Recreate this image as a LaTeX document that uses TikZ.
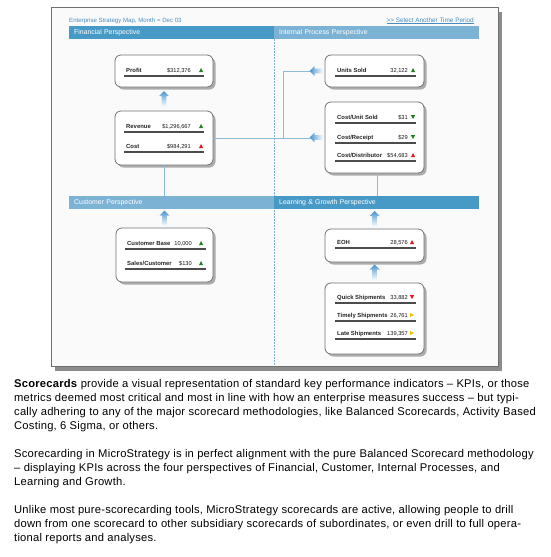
\documentclass[tikz,border=0pt]{standalone}
\usepackage{fontspec}
\setmainfont{Liberation Sans}
\newfontfamily\linkfont{Liberation Sans}
\usetikzlibrary{shadows,calc}
\definecolor{hdrdark}{RGB}{72,154,198}
\definecolor{hdrlight}{RGB}{124,178,212}
\definecolor{titleblue}{RGB}{70,140,195}
\definecolor{arrblue}{RGB}{70,145,205}
\definecolor{conblue}{RGB}{140,186,218}
\definecolor{framegray}{RGB}{112,112,112}
\definecolor{indgreen}{RGB}{30,130,30}
\definecolor{indred}{RGB}{235,20,20}
\definecolor{indyellow}{RGB}{245,195,0}
\tikzset{
  kpibox/.style={draw=black!55, line width=0.8pt, fill=white, rounded corners=6pt,
    drop shadow={shadow xshift=2.5pt, shadow yshift=-2.5pt, fill=black!40, opacity=0.8},
    inner sep=0pt},
  hdr/.style={anchor=north west, minimum height=13pt, text width=195pt, inner xsep=5pt,
    inner ysep=0pt, align=left, text=white, font=\fontsize{6.9}{7}\selectfont},
  uline/.style={draw=black!70, line width=1.1pt},
  lbl/.style={inner sep=0pt, font=\fontsize{5.9}{7}\selectfont\bfseries, text=black!85},
  val/.style={inner sep=0pt, font=\fontsize{5.7}{7}\selectfont, text=black!90},
  conn/.style={draw=conblue, line width=0.8pt},
  para/.style={anchor=base west, inner sep=0pt, font=\fontsize{11.2}{14}\selectfont\addfontfeatures{LetterSpace=2}},
  uparr/.pic={\shade[top color=arrblue, bottom color=white, middle color=arrblue!45]
     (0,-8) -- (5,-3) -- (2.3,-3) -- (2.3,8) -- (-2.3,8) -- (-2.3,-3) -- (-5,-3) -- cycle;},
  leftarr/.pic={\shade[left color=arrblue, right color=white, middle color=arrblue!45]
     (-7,0) -- (-2,-5) -- (-2,-2.3) -- (7,-2.3) -- (7,2.3) -- (-2,2.3) -- (-2,5) -- cycle;},
  gup/.pic={\fill[indgreen] (-2,2) -- (2,2) -- (0,-2) -- cycle;},
  rup/.pic={\fill[indred] (-2,2) -- (2,2) -- (0,-2) -- cycle;},
  gdown/.pic={\fill[indgreen] (-2.2,-2) -- (2.2,-2) -- (0,2) -- cycle;},
  rdown/.pic={\fill[indred] (-2.2,-2) -- (2.2,-2) -- (0,2) -- cycle;},
  yright/.pic={\fill[indyellow] (-2,-2.2) -- (-2,2.2) -- (2,0) -- cycle;},
}
% x1, x2, y, label, value, indicator, value-end offset, indicator offset
\newcommand{\kpirow}[8]{%
  \draw[uline] (#1,#3) -- (#2,#3);
  \node[lbl, anchor=base west] at (#1+2,#3-4) {#4};
  \node[val, anchor=base east] at (#2-#7,#3-4) {#5};
  \pic at (#2-#8,#3-6) {#6};
}
\begin{document}
\begin{tikzpicture}[x=1pt,y=-1pt]
\useasboundingbox (0,0) rectangle (550,557);
\fill[white] (0,0) rectangle (550,557);
% frame
\fill[black!45] (55,12) rectangle (502,371);
\draw[framegray, line width=1pt, fill=white!98!black] (51,7) rectangle (498,366);
% title line
\node[anchor=base west, inner sep=0pt, text=titleblue, font=\fontsize{6.1}{7}\selectfont] (title) at (69,22) {Enterprise Strategy Map, Month = Dec 03};
\node[anchor=base east, inner sep=0pt, text=titleblue, font=\linkfont\fontsize{6.4}{7}\selectfont] (link) at (474,22) {\underline{>> Select Another Time Period}};
% dotted divider
\draw[hdrlight, line width=0.6pt, dash pattern=on 2pt off 1pt] (274,39) -- (274,366);
% headers
\node[hdr, fill=hdrdark, minimum width=205pt] (fin) at (69,26) {Financial Perspective};
\node[hdr, fill=hdrlight, minimum width=203pt] (ipp) at (274,26) {Internal Process Perspective};
\node[hdr, fill=hdrlight, minimum width=205pt] (cust) at (69,196) {Customer Perspective};
\node[hdr, fill=hdrdark, minimum width=204pt] (lg) at (274,196) {Learning \& Growth Perspective};
% boxes
\node[kpibox, minimum width=98pt, minimum height=32pt] (profit) at (164,71) {};
\node[kpibox, minimum width=98pt, minimum height=54pt] (revenue) at (164,138) {};
\node[kpibox, minimum width=99pt, minimum height=32pt] (units) at (374.5,71) {};
\node[kpibox, minimum width=99pt, minimum height=71pt] (cost) at (374.5,137.5) {};
\node[kpibox, minimum width=97pt, minimum height=54pt] (customer) at (164.5,255) {};
\node[kpibox, minimum width=99pt, minimum height=33pt] (eoh) at (374.5,245.5) {};
\node[kpibox, minimum width=99pt, minimum height=71pt] (ship) at (374.5,318.5) {};
% rows
\kpirow{124}{204}{76}{Profit}{\$312,376}{gup}{13}{3}
\kpirow{124}{204}{132}{Revenue}{\$1,296,667}{gup}{13}{3}
\kpirow{124}{204}{152}{Cost}{\$984,291}{rup}{13}{3}
\kpirow{335}{416}{76}{Units Sold}{32,122}{gup}{8}{3}
\kpirow{335}{416}{123}{Cost/Unit Sold}{\$31}{gdown}{8}{3}
\kpirow{335}{416}{143}{Cost/Receipt}{\$29}{gdown}{8}{3}
\kpirow{335}{416}{161}{Cost/Distributor}{\$54,683}{rup}{8}{3}
\kpirow{125}{206}{249}{Customer Base}{10,000}{gup}{14}{5}
\kpirow{125}{206}{269}{Sales/Customer}{\$130}{gup}{14}{5}
\kpirow{335}{416}{248}{EOH}{28,576}{rup}{8}{4}
\kpirow{335}{416}{303}{Quick Shipments}{33,882}{rdown}{8}{4}
\kpirow{335}{416}{321}{Timely Shipments}{26,761}{yright}{8}{4}
\kpirow{335}{416}{339}{Late Shipments}{139,357}{yright}{8}{4}
% connectors
\coordinate (t1) at ($(units.west)+(-15,0)$);
\coordinate (t2) at ($(cost.west)+(-15,0)$);
\coordinate (bus) at (283,100);
\draw[conn] (revenue.east) -- (revenue.east -| t2);
\draw[conn] (t1) -| (bus |- revenue.east);
\draw[conn] (revenue.south) -- (revenue.south |- cust.north);
\draw[conn] (377,173) -- (377,196);
% fading arrows
\pic at ($(profit.south)!0.5!(revenue.north)$) {uparr};
\pic at ($(cust.south -| customer.north)!0.5!(customer.north)$) {uparr};
\pic at ($(lg.south -| eoh.north)!0.5!(eoh.north)$) {uparr};
\pic at ($(eoh.south)!0.5!(ship.north)$) {uparr};
\pic at ($(units.west)+(-8,0)$) {leftarr};
\pic at ($(cost.west)+(-8,0)$) {leftarr};
% text
\node[para] (p1a) at (14,387) {\textbf{Scorecards} provide a visual representation of standard key performance indicators -- KPIs, or those};
\node[para] (p1b) at (14,401) {metrics deemed most critical and most in line with how an enterprise measures success -- but typi-};
\node[para] (p1c) at (14,415) {cally adhering to any of the major scorecard methodologies, like Balanced Scorecards, Activity Based};
\node[para] (p1d) at (14,429) {Costing, 6 Sigma, or others.};
\node[para] (p2a) at (14,457) {Scorecarding in MicroStrategy is in perfect alignment with the pure Balanced Scorecard methodology};
\node[para] (p2b) at (14,471) {-- displaying KPIs across the four perspectives of Financial, Customer, Internal Processes, and};
\node[para] (p2c) at (14,485) {Learning and Growth.};
\node[para] (p3a) at (14,513) {Unlike most pure-scorecarding tools, MicroStrategy scorecards are active, allowing people to drill};
\node[para] (p3b) at (14,527) {down from one scorecard to other subsidiary scorecards of subordinates, or even drill to full opera-};
\node[para] (p3c) at (14,541) {tional reports and analyses.};
\end{tikzpicture}
\end{document}
